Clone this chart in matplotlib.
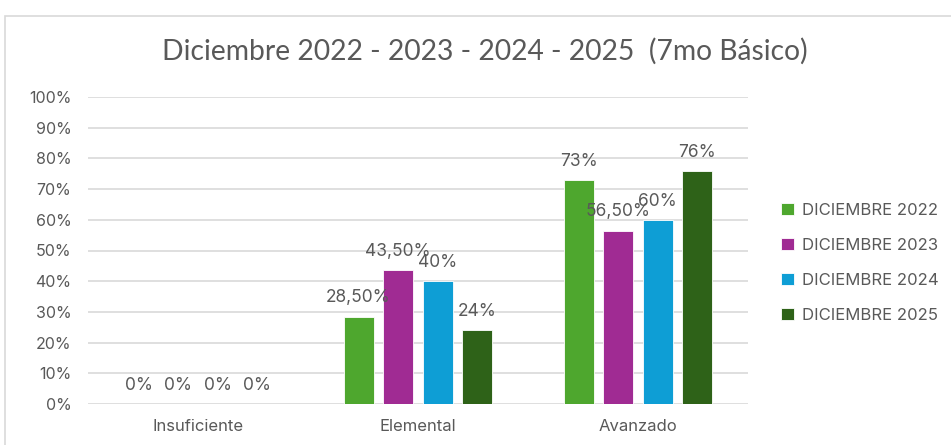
import matplotlib
matplotlib.use('Agg')
import matplotlib.pyplot as plt
import numpy as np
from matplotlib.patches import Rectangle

plt.rcParams['font.family'] = ['Inter', 'DejaVu Sans']

# ========== 数据 ==========
categories = ['Insuficiente', 'Elemental', 'Avanzado']
series_names = ['DICIEMBRE 2022', 'DICIEMBRE 2023', 'DICIEMBRE 2024', 'DICIEMBRE 2025']
v2022 = [0, 28.5, 73]
v2023 = [0, 43.5, 56.5]
v2024 = [0, 40, 60]
v2025 = [0, 24, 76]
labels2022 = ['0%', '28,50%', '73%']
labels2023 = ['0%', '43,50%', '56,50%']
labels2024 = ['0%', '40%', '60%']
labels2025 = ['0%', '24%', '76%']
yticks = [0, 10, 20, 30, 40, 50, 60, 70, 80, 90, 100]

C_GREEN = '#4EA72E'
C_PURPLE = '#A02B93'
C_BLUE = '#0E9ED5'
C_DKGREEN = '#2E6218'
C_TEXT = '#595959'
C_GRID = '#D9D9D9'

fig = plt.figure(figsize=(9.51, 4.45), dpi=100, facecolor='white')
# chart frame (cut off at right/bottom like the screenshot)
fig.patches.append(Rectangle((5 / 951, -0.1), 1.1, 1 - 16 / 445 + 0.1,
                             transform=fig.transFigure, fill=False,
                             edgecolor=C_GRID, linewidth=1.2))

ax = fig.add_axes([88 / 951, 1 - 404 / 445, 660 / 951, 307 / 445])

x = np.arange(len(categories))
width = 0.136
step = 0.18
all_vals = [v2022, v2023, v2024, v2025]
all_labels = [labels2022, labels2023, labels2024, labels2025]
colors = [C_GREEN, C_PURPLE, C_BLUE, C_DKGREEN]

for i, (vals, labs, col, name) in enumerate(zip(all_vals, all_labels, colors, series_names)):
    pos = x + (i - 1.5) * step
    bars = ax.bar(pos, vals, width, color=col, edgecolor='white', linewidth=0.6,
                  label=name, zorder=3)
    for b, lab in zip(bars, labs):
        ax.text(b.get_x() + b.get_width() / 2, b.get_height() + 3.3, lab,
                ha='center', va='bottom', fontsize=12.5, color=C_TEXT, zorder=4)

ax.set_xlim(-0.5, 2.5)
ax.set_ylim(0, 100)
ax.set_yticks(yticks)
ax.set_yticklabels([f'{t}%' for t in yticks])
ax.set_xticks(x)
ax.set_xticklabels(categories)
ax.yaxis.grid(True, color=C_GRID, linewidth=1.2, zorder=0)
ax.set_axisbelow(True)
for sp in ax.spines.values():
    sp.set_visible(False)
ax.tick_params(axis='both', length=0, colors=C_TEXT, labelsize=11.5)
ax.tick_params(axis='y', pad=12)
ax.tick_params(axis='x', pad=11, labelsize=12)

fig.text(485 / 951, 1 - 51 / 445, 'Diciembre 2022 - 2023 - 2024 - 2025  (7mo Básico)',
         ha='center', va='center', fontsize=20.3, color=C_TEXT,
         family=['Lato', 'DejaVu Sans'])

leg = fig.legend(loc='upper left', bbox_to_anchor=(766 / 951, 1 - 188 / 445),
                 frameon=False, fontsize=12, labelcolor=C_TEXT,
                 handlelength=0.75, handleheight=0.75, handletextpad=0.5,
                 labelspacing=1.2)

fig.savefig('out.png', dpi=100, facecolor='white')
